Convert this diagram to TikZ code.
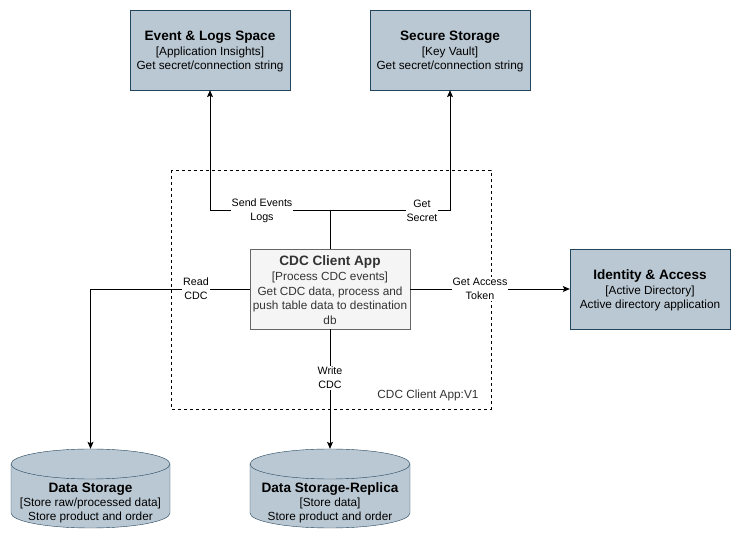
\documentclass[tikz,border=0pt]{standalone}
\usepackage{fontspec}
\setmainfont{Liberation Sans}
\usetikzlibrary{arrows.meta}
\definecolor{boxfill}{HTML}{BAC8D3}
\definecolor{boxline}{HTML}{23445D}
\definecolor{appfill}{HTML}{F5F5F5}
\definecolor{appline}{HTML}{666666}
\definecolor{apptext}{HTML}{333333}
\tikzset{
  sysbox/.style={draw=boxline, fill=boxfill, minimum width=160pt, minimum height=80pt, inner sep=0pt, align=center, text width=158pt, font=\fontsize{11.8}{14.5}\selectfont},
  appbox/.style={draw=appline, fill=appfill, minimum width=160pt, minimum height=80pt, inner sep=0pt, align=center, text width=160pt, text=apptext, font=\fontsize{11.8}{14.8}\selectfont},
  cylarea/.style={minimum width=159pt, minimum height=79pt, inner sep=0pt},
  cyltext/.style={align=center, font=\fontsize{11.8}{14.5}\selectfont},
  cyl/.style={draw=boxline, fill=boxfill},
  elabel/.style={fill=white, inner sep=1pt, align=center, font=\fontsize{10.7}{14}\selectfont},
  conn/.style={draw=black, line width=0.8pt},
  arr/.style={conn, -{Stealth[length=7pt,width=6pt,inset=1.5pt]}}
}
\newcommand{\ttl}[1]{{\fontsize{13.6}{15}\selectfont\bfseries #1}}
\begin{document}
\begin{tikzpicture}[x=1pt,y=1pt]
\useasboundingbox (0,0) rectangle (741,540);
\fill[white] (0,0) rectangle (741,540);
% container
\draw[dashed, line width=0.7pt] (171,370) rectangle (491,131);
\node[anchor=east, text=apptext, font=\fontsize{11.8}{14}\selectfont] (ver) at (482,145) {CDC Client App:V1};
% boxes
\node[sysbox] (ev) at (210,490) {};
\node[sysbox] (ss) at (450,490) {};
\node[sysbox] (ia) at (650,251) {};
\node[appbox] (cdc) at (330,251) {};
\node[align=center, font=\fontsize{11.8}{14.5}\selectfont] (evt) at (210,488.5) {\ttl{Event \& Logs Space}\\[0.3pt][Application Insights]\\Get secret/connection string};
\node[align=center, font=\fontsize{11.8}{14.5}\selectfont] (sst) at (450,488.5) {\ttl{Secure Storage}\\[0.3pt][Key Vault]\\Get secret/connection string};
\node[align=center, font=\fontsize{11.8}{14.5}\selectfont] (iat) at (650,249.5) {\ttl{Identity \& Access}\\[0.3pt][Active Directory]\\Active directory application};
\node[align=center, text=apptext, font=\fontsize{11.8}{14.8}\selectfont] (cdct) at (330,250) {\ttl{CDC Client App}\\[0.5pt][Process CDC events]\\Get CDC data, process and\\push table data to destination\\db};
% cylinders
\path[cyl] (11,76) -- (11,27) arc[start angle=180, end angle=360, x radius=79.5pt, y radius=15pt] -- (170,76) arc[start angle=0, end angle=180, x radius=79.5pt, y radius=15pt] -- cycle;
\draw[boxline] (11,76) arc[start angle=180, end angle=360, x radius=79.5pt, y radius=15pt];
\path[cyl] (250,76) -- (250,27) arc[start angle=180, end angle=360, x radius=80pt, y radius=15pt] -- (410,76) arc[start angle=0, end angle=180, x radius=80pt, y radius=15pt] -- cycle;
\draw[boxline] (250,76) arc[start angle=180, end angle=360, x radius=80pt, y radius=15pt];
\node[cylarea] (ds) at (90.5,51.5) {};
\node[cylarea] (dsr) at (330,51.5) {};
\node[cyltext] (dst) at (90.5,37) {\ttl{Data Storage}\\[-0.5pt][Store raw/processed data]\\Store product and order};
\node[cyltext] (dsrt) at (330,37) {\ttl{Data Storage-Replica}\\[-0.5pt][Store data]\\Store product and order};
% connectors
\coordinate (j) at (330,330);
\draw[conn] (cdc.north) -- (j);
\draw[arr] (j) -| (ev.south);
\draw[arr] (j) -| (ss.south);
\draw[arr] (cdc.west) -| (ds.north);
\draw[arr] (cdc.east) -- (ia.west);
\draw[arr] (cdc.south) -- (dsr.north);
% labels
\node[elabel] (l1) at (262,329) {Send Events\\Logs};
\node[elabel] (l2) at (422,329) {Get\\Secret};
\node[elabel] (l3) at (196,251) {Read\\CDC};
\node[elabel] (l4) at (480,251) {Get Access\\Token};
\node[elabel] (l5) at (330,162) {Write\\CDC};
\end{tikzpicture}
\end{document}
